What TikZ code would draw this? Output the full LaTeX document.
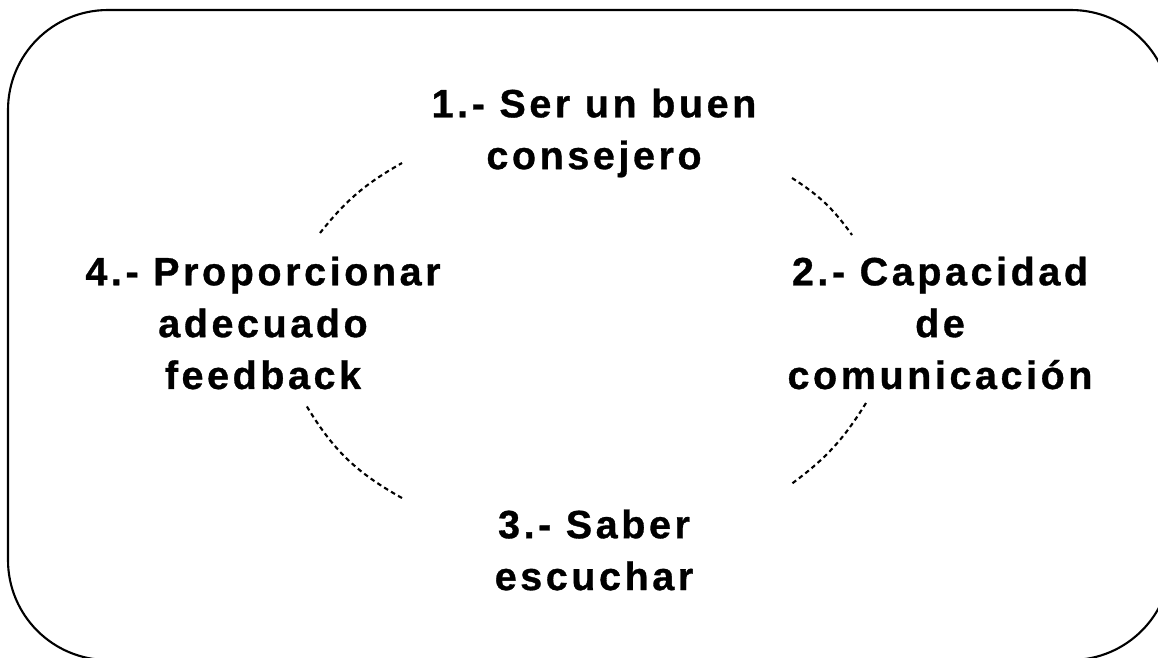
\documentclass[tikz,border=0pt]{standalone}
\usepackage{fontspec}
\newfontfamily\ideafont[LetterSpace=9, FakeBold=0.8]{Liberation Sans}
\tikzset{idea/.style = {align=center, inner sep=0pt, font=\ideafont\bfseries\fontsize{22.5}{29.5}\selectfont}}
\tikzset{link/.style = {dash pattern=on 2.6pt off 2pt, line width=1.2pt}}

\begin{document}
\begin{tikzpicture}[x=0.02cm, y=-0.02cm]
      \useasboundingbox (0,0) rectangle (1158,657);
      \clip (0,0) rectangle (1158,657);
      \draw[line width=1.2pt, rounded corners=2cm] (8,10) rectangle (1171,660);

      \node[idea] (one) at (594,133) {1.- Ser un buen\\consejero};
      \node[idea] (two) at (940,323) {2.- Capacidad\\de\\comunicación};
      \node[idea] (three) at (594,550) {3.- Saber\\escuchar};
      \node[idea] (four) at (263,323) {4.- Proporcionar\\adecuado\\feedback};

      \coordinate (oneW) at (320,233);
      \coordinate (oneE) at (402,163);
      \coordinate (twoN) at (792,178);
      \coordinate (twoS) at (852,235);
      \coordinate (threeN) at (866,403);
      \coordinate (threeS) at (790,485);
      \coordinate (fourS) at (402,498);
      \coordinate (fourN) at (306,405);

      \draw[link] (oneW) to [bend left=11] (oneE);
      \draw[link] (twoN) to [bend left=11] (twoS);
      \draw[link] (threeN) to [bend left=11] (threeS);
      \draw[link] (fourS) to [bend left=15] (fourN);
    \end{tikzpicture}
\end{document}
